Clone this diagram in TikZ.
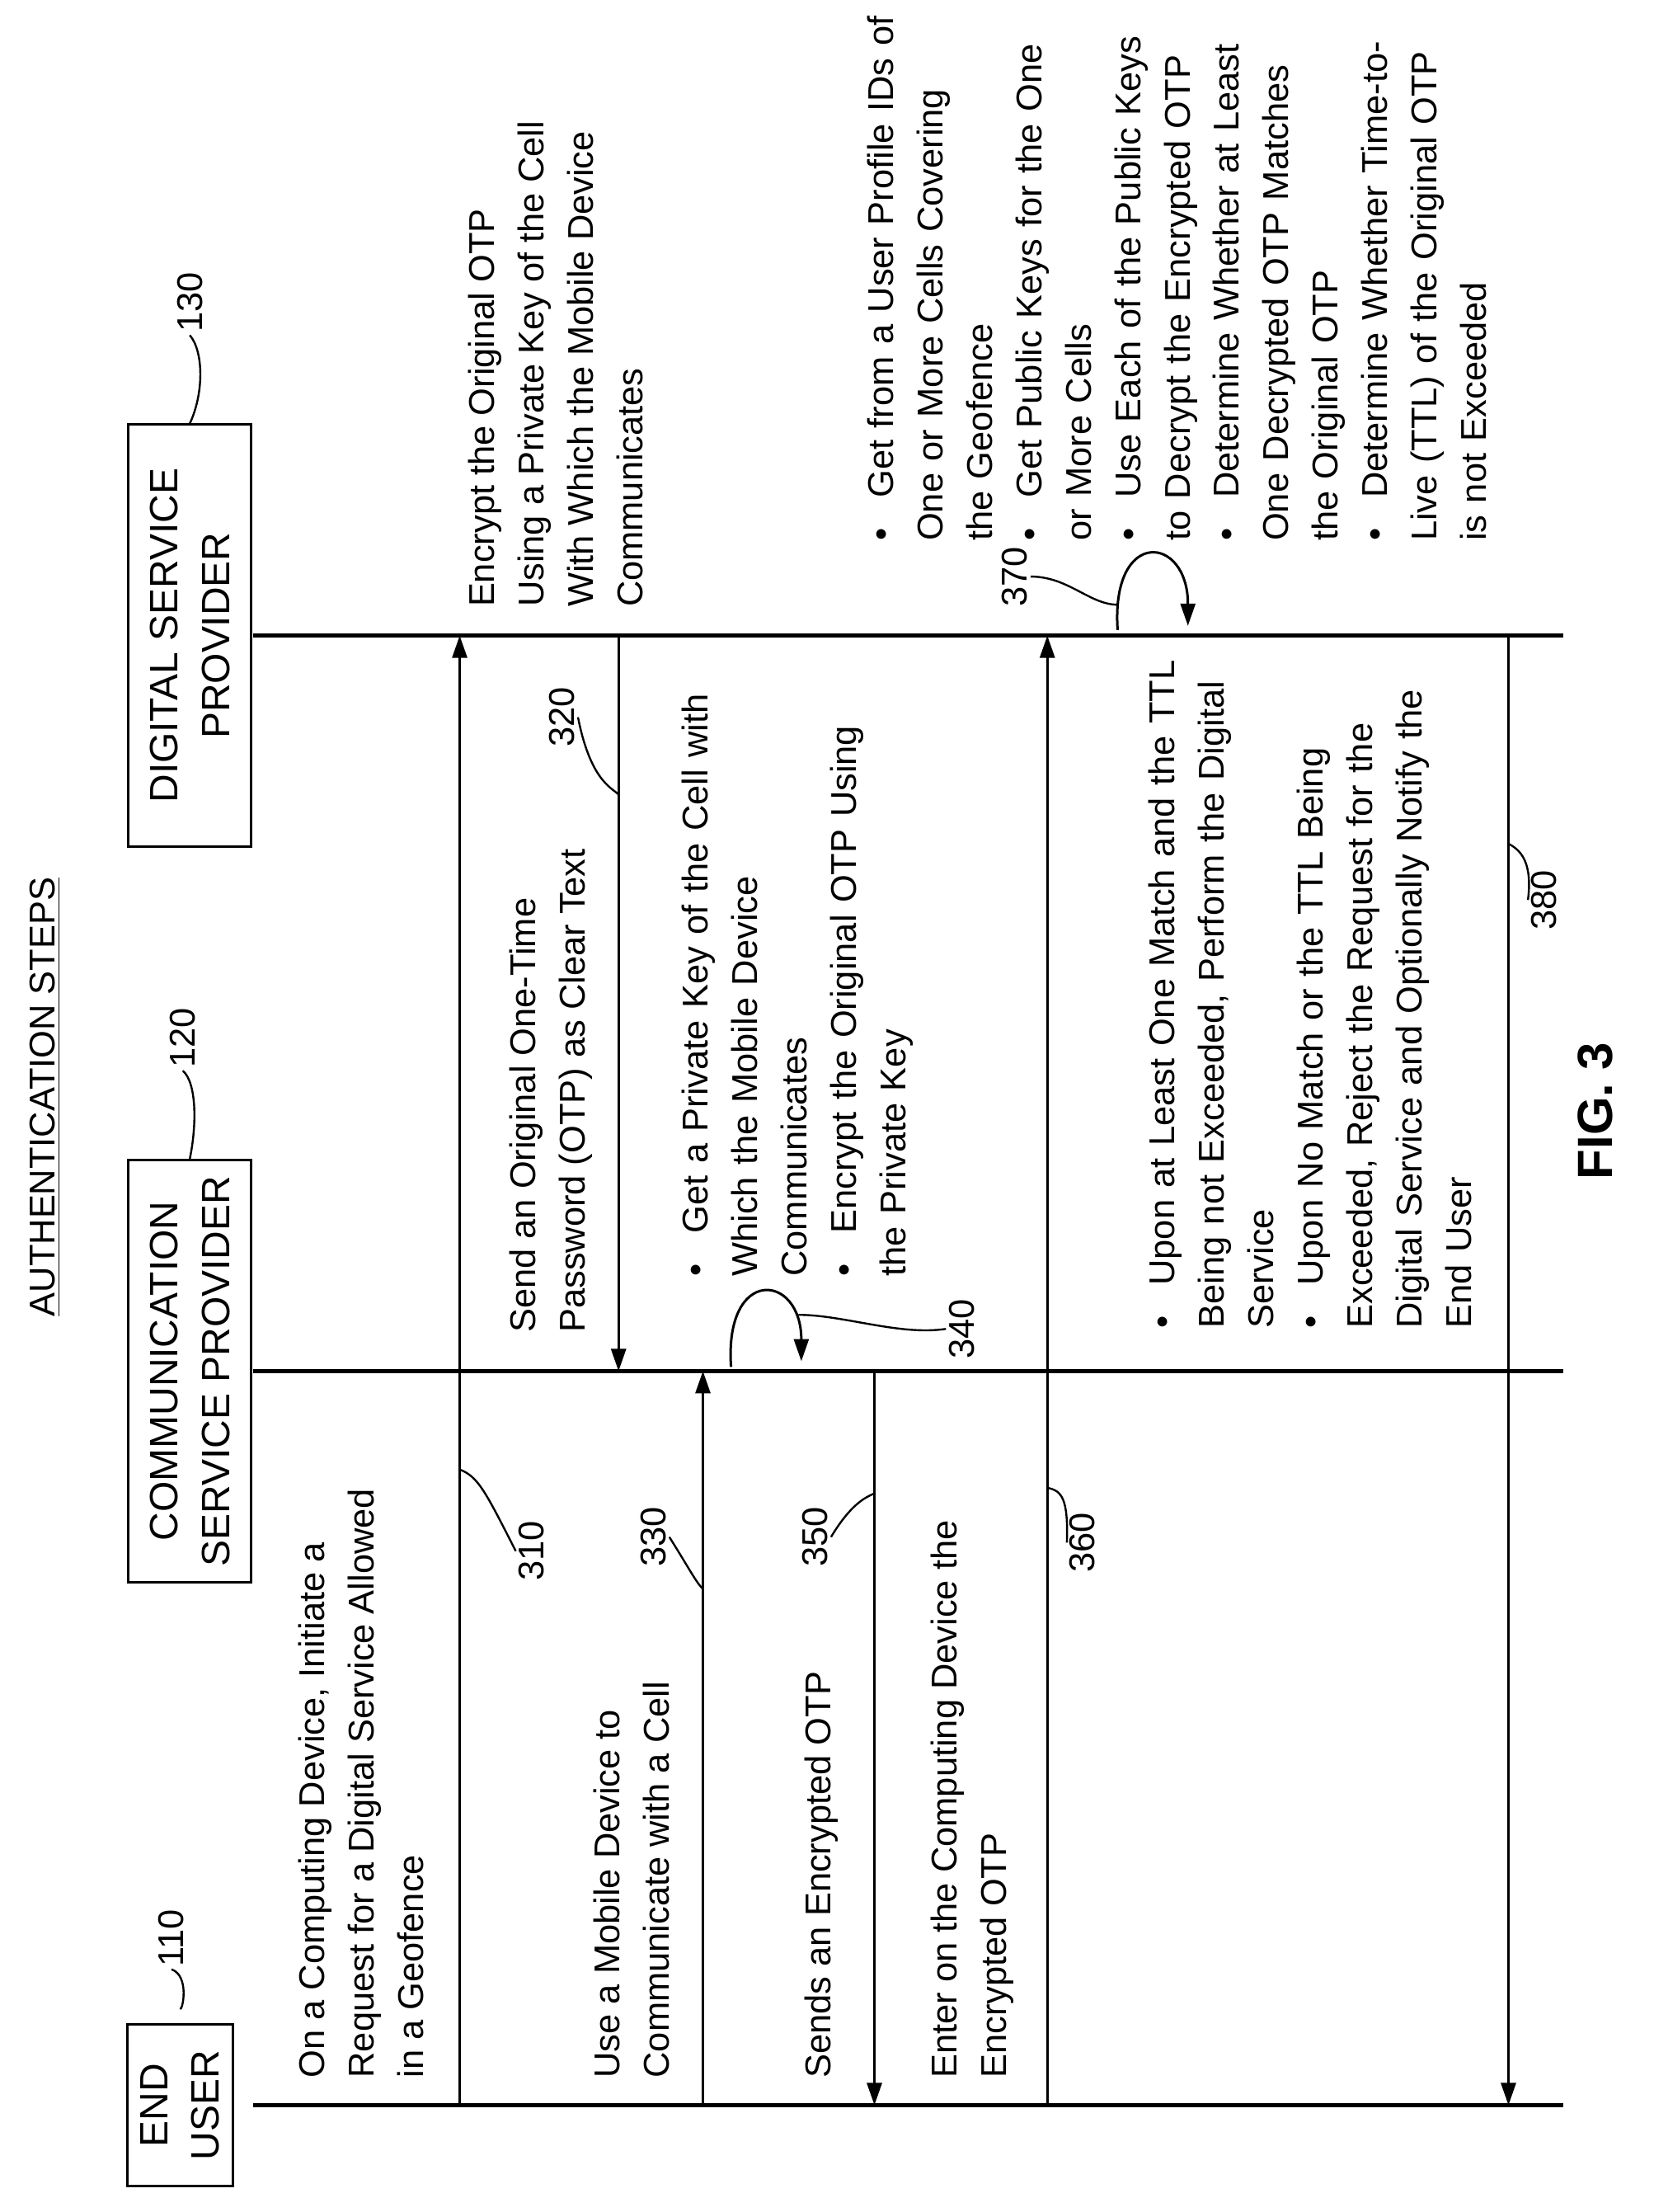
\documentclass[tikz,border=0pt]{standalone}
\usepackage{fontspec}
\setmainfont{Liberation Sans}
\usetikzlibrary{arrows.meta,positioning}
\newcommand\bitem[1]{\par\hangindent=1.2em\hangafter=1\noindent\makebox[1.2em][l]{\textbullet}#1}
\begin{document}
\begin{tikzpicture}[x=0.02cm,y=-0.02cm,
    every node/.style={rotate=90,font=\fontsize{14.5}{20}\selectfont},
    life/.style={line width=1.6pt},
    msg/.style={line width=1pt,-{Triangle[length=9pt,width=6pt]}},
    lead/.style={line width=0.8pt},
    actor/.style={draw,line width=1pt,align=center,inner sep=5pt,font=\fontsize{16}{21}\selectfont},
    steptext/.style={align=left,anchor=north west,inner sep=0pt},
    blist/.style={anchor=north west,inner sep=0pt,text width=#1,align=left},
    num/.style={inner sep=1pt}]
\useasboundingbox (0,0) rectangle (1186,1573);
% title and figure label
\node (title) at (32,780) {\underline{AUTHENTICATION STEPS}};
\node[font=\fontsize{20}{24}\selectfont\bfseries] (fig) at (1135,790) {FIG. 3};
% actors
\node[actor,minimum width=2.3cm,minimum height=1.5cm] (eu) at (128,1497) {END\\USER};
\node[actor,minimum width=6cm,minimum height=1.75cm] (csp) at (135,975) {COMMUNICATION\\SERVICE PROVIDER};
\node[actor,minimum width=6cm,minimum height=1.75cm] (dsp) at (135,452) {DIGITAL SERVICE\\PROVIDER};
% lifelines
\coordinate (euA) at (180,1497); \coordinate (euB) at (1112,1497);
\coordinate (cspA) at (180,975); \coordinate (cspB) at (1112,975);
\coordinate (dspA) at (180,452); \coordinate (dspB) at (1112,452);
\draw[life] (euA) -- (euB);
\draw[life] (cspA) -- (cspB);
\draw[life] (dspA) -- (dspB);
% reference numbers of actors
\node[num] (n110) at (122,1378) {110};
\node[num] (n120) at (130,738) {120};
\node[num] (n130) at (135,215) {130};
\draw[lead] (eu.east) ++(0,-10) .. controls (130,1430) and (135,1405) .. (n110.west);
\draw[lead] (csp.east) .. controls (140,800) and (140,770) .. (n120.west);
\draw[lead] (dsp.east) .. controls (145,280) and (145,250) .. (n130.west);
% messages
\coordinate (m310a) at (327,1497); \coordinate (m310b) at (327,452);
\draw[msg] (m310a) -- (m310b);
\coordinate (m320a) at (440,452); \coordinate (m320b) at (440,975);
\draw[msg] (m320a) -- (m320b);
\coordinate (m330a) at (500,1497); \coordinate (m330b) at (500,975);
\draw[msg] (m330a) -- (m330b);
\coordinate (m350a) at (622,975); \coordinate (m350b) at (622,1497);
\draw[msg] (m350a) -- (m350b);
\coordinate (m360a) at (745,1497); \coordinate (m360b) at (745,452);
\draw[msg] (m360a) -- (m360b);
\coordinate (m380a) at (1073,452); \coordinate (m380b) at (1073,1497);
\draw[msg] (m380a) -- (m380b);
% self loops
\coordinate (l340a) at (520,972); \coordinate (l340b) at (570,968);
\draw[msg] (l340a) .. controls (515,900) and (570,905) .. (l340b);
\coordinate (l370a) at (795,448); \coordinate (l370b) at (845,445);
\draw[msg] (l370a) .. controls (790,375) and (845,380) .. (l370b);
% message numbers
\node[num] (n310) at (378,1103) {310};
\node[num] (n320) at (400,510) {320};
\node[num] (n330) at (465,1093) {330};
\node[num] (n340) at (684,945) {340};
\node[num] (n350) at (580,1093) {350};
\node[num] (n360) at (770,1097) {360};
\node[num] (n370) at (722,410) {370};
\node[num] (n380) at (1098,640) {380};
\draw[lead] (n310.north) .. controls (345,1060) and (340,1050) .. (327,1045);
\draw[lead] (n320.south) .. controls (420,555) and (435,560) .. (440,565);
\draw[lead] (n330.south) .. controls (490,1115) and (495,1125) .. (500,1130);
\draw[lead] (n340.north) .. controls (640,950) and (600,935) .. (568,935);
\draw[lead] (n350.south) .. controls (605,1070) and (615,1065) .. (622,1062);
\draw[lead] (n360.north) .. controls (760,1065) and (755,1060) .. (745,1058);
\draw[lead] (n370.south) .. controls (760,410) and (775,430) .. (795,430);
\draw[lead] (n380.north) .. controls (1090,615) and (1083,605) .. (1073,600);
% step texts
\node[steptext] (t310) at (212,1478) {On a Computing Device, Initiate a\\Request for a Digital Service Allowed\\in a Geofence};
\node[steptext] (t330) at (422,1478) {Use a Mobile Device to\\Communicate with a Cell};
\node[steptext] (t350) at (572,1478) {Sends an Encrypted OTP};
\node[steptext] (t360) at (662,1478) {Enter on the Computing Device the\\Encrypted OTP};
\node[steptext] (t320) at (362,948) {Send an Original One-Time\\Password (OTP) as Clear Text};
\node[steptext] (t315) at (333,432) {Encrypt the Original OTP\\Using a Private Key of the Cell\\With Which the Mobile Device\\Communicates};
\node[blist=12cm] (t340) at (468,908) {\bitem{Get a Private Key of the Cell with\\Which the Mobile Device\\Communicates}\bitem{Encrypt the Original OTP Using\\the Private Key}};
\node[blist=12cm] (t370) at (600,385) {\bitem{Get from a User Profile IDs of\\One or More Cells Covering\\the Geofence}\bitem{Get Public Keys for the One\\or More Cells}\bitem{Use Each of the Public Keys\\to Decrypt the Encrypted OTP}\bitem{Determine Whether at Least\\One Decrypted OTP Matches\\the Original OTP}\bitem{Determine Whether Time-to-\\Live (TTL) of the Original OTP\\is not Exceeded}};
\node[blist=14cm] (t380) at (800,945) {\bitem{Upon at Least One Match and the TTL\\Being not Exceeded, Perform the Digital\\Service}\bitem{Upon No Match or the TTL Being\\Exceeded, Reject the Request for the\\Digital Service and Optionally Notify the\\End User}};
\end{tikzpicture}
\end{document}
